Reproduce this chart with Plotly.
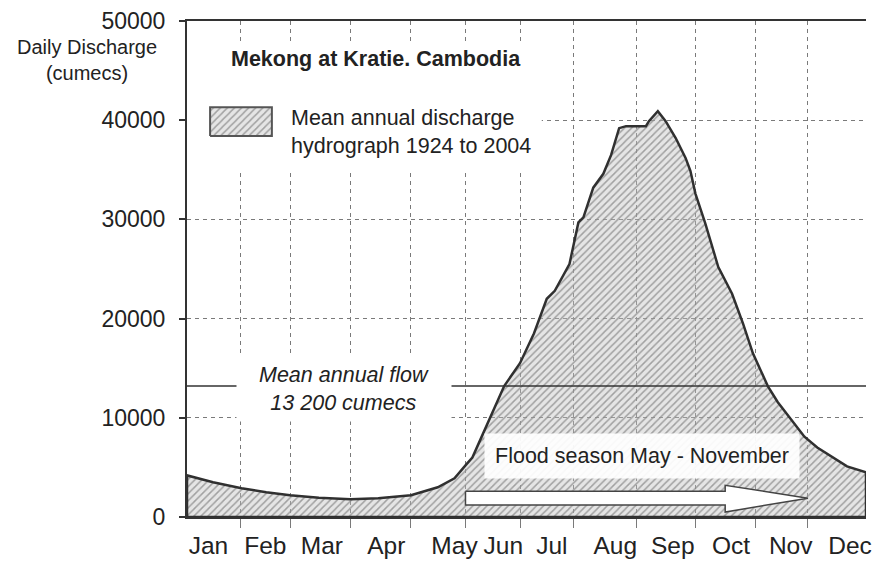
import plotly.graph_objects as go

# ---------------- data ----------------
month_labels = ["Jan", "Feb", "Mar", "Apr", "May", "Jun", "Jul", "Aug", "Sep", "Oct", "Nov", "Dec"]
month_label_days = [11.5, 42.1, 72.5, 107.1, 143.8, 170.0, 196.1, 230.2, 261.1, 292.5, 324.5, 356.4]
month_grid_days = [29.0, 55.4, 87.9, 120.4, 149.7, 179.3, 207.8, 241.6, 273.6, 305.6, 333.8]

day_of_year = [0, 14, 29.3, 42.6, 55.4, 70.9, 87.9, 102.8, 120.4, 134.8,
               143.8, 149.7, 153.4, 157.7, 163.0, 170.5, 179.0, 186.5, 193.4, 197.7,
               205.6, 207.8, 210.4, 213.1, 218.4, 223.8, 228.0, 232.3, 236.0, 246.7,
               248.3, 253.1, 257.3, 262.7, 268.0, 270.6, 273.3, 278.6, 285.6, 293.0,
               298.9, 304.2, 312.2, 317.5, 325.0, 331.9, 338.8, 346.3, 354.8, 365]
discharge = [4200, 3500, 2900, 2500, 2200, 1950, 1800, 1900, 2200, 3000,
             3900, 5200, 6000, 7800, 10000, 13200, 15500, 18500, 22000, 22800,
             25500, 27500, 29700, 30200, 33200, 34600, 36500, 39200, 39400, 39400,
             39900, 40900, 39900, 38200, 36200, 34900, 32600, 29600, 25200, 22500,
             19500, 16500, 13200, 11600, 9800, 8100, 7000, 6100, 5100, 4500]

y_ticks = [0, 10000, 20000, 30000, 40000, 50000]
mean_annual_flow = 13200

# flood-season arrow (day of year / cumecs)
flood_start_day = 149.7
flood_head_day = 289.3
flood_end_day = 333.8
arrow_body = (1200, 2600)
arrow_head = (500, 3200)
arrow_tip = 1900

YEAR_END = 365
FONT = "Liberation Sans, Arial, sans-serif"
TXT = "#222222"

hatch = dict(shape="/", bgcolor="rgba(190,190,190,0.40)", fgcolor="#8a8a8a",
             fgopacity=0.75, size=5, solidity=0.3)

fig = go.Figure()

# hydrograph (closed polygon so that the outline runs round the whole area)
fig.add_trace(go.Scatter(
    x=[0] + day_of_year + [YEAR_END, 0],
    y=[0] + discharge + [0, 0],
    mode="lines", fill="toself",
    fillcolor="rgba(190,190,190,0.40)", fillpattern=hatch,
    line=dict(color="#303030", width=2.5),
    hoverinfo="skip", showlegend=False))

# flood-season arrow
ax = [flood_start_day, flood_head_day, flood_head_day, flood_end_day,
      flood_head_day, flood_head_day, flood_start_day, flood_start_day]
ay = [arrow_body[1], arrow_body[1], arrow_head[1], arrow_tip,
      arrow_head[0], arrow_body[0], arrow_body[0], arrow_body[1]]
fig.add_trace(go.Scatter(x=ax, y=ay, mode="lines", fill="toself",
                         fillcolor="white", line=dict(color="#444444", width=1.5),
                         hoverinfo="skip", showlegend=False))

# legend swatch on an invisible overlay axis (0..1 of the plot area)
sw = dict(x0=0.034, x1=0.125, y0=0.768, y1=0.826)
fig.add_trace(go.Scatter(
    x=[sw["x0"], sw["x1"], sw["x1"], sw["x0"], sw["x0"]],
    y=[sw["y0"], sw["y0"], sw["y1"], sw["y1"], sw["y0"]],
    mode="lines", fill="toself", fillcolor="rgba(190,190,190,0.40)", fillpattern=hatch,
    line=dict(color="#555555", width=2), xaxis="x2", yaxis="y2",
    hoverinfo="skip", showlegend=False))

shapes = [
    # white area behind title + legend, hiding the grid
    dict(type="rect", xref="x", yref="y", layer="between",
         x0=0, x1=190.7, y0=34700, y1=47700,
         fillcolor="white", line=dict(width=0)),
    # mean annual flow line
    dict(type="line", xref="x", yref="y", layer="above",
         x0=0, x1=YEAR_END, y0=mean_annual_flow, y1=mean_annual_flow,
         line=dict(color="#333333", width=1.5)),
]

annotations = [
    dict(text="<b>Mekong at Kratie. Cambodia</b>", xref="paper", yref="paper",
         x=0.279, y=0.924, xanchor="center", yanchor="middle", showarrow=False,
         font=dict(size=21.5, color=TXT, family=FONT)),
    dict(text="Mean annual discharge<br>hydrograph 1924 to 2004", xref="paper", yref="paper",
         x=0.150, y=0.777, xanchor="left", yanchor="middle", align="left", showarrow=False,
         font=dict(size=21.5, color=TXT, family=FONT)),
    dict(text="Daily Discharge<br>(cumecs)", xref="paper", yref="paper",
         x=-0.148, y=0.922, xanchor="center", yanchor="middle", showarrow=False,
         align="center", font=dict(size=20, color=TXT, family=FONT)),
    dict(text="<i>Mean annual flow<br>13 200 cumecs</i>", xref="x", yref="y",
         x=84.2, y=12900, showarrow=False, align="center",
         width=212, height=62, bgcolor="white",
         font=dict(size=21.5, color=TXT, family=FONT)),
    dict(text="Flood season May - November", xref="x", yref="y",
         x=244.5, y=6200, showarrow=False, align="center",
         width=312, height=42, bgcolor="rgba(255,255,255,0.92)",
         font=dict(size=21.5, color=TXT, family=FONT)),
]

fig.update_layout(
    width=880, height=567,
    margin=dict(l=187, r=8, t=19, b=49),
    paper_bgcolor="white", plot_bgcolor="white",
    font=dict(family=FONT, color=TXT),
    showlegend=False,
    shapes=shapes, annotations=annotations,
    xaxis=dict(range=[0, YEAR_END], tickmode="array", tickvals=month_label_days,
               ticktext=month_labels, ticks="", showgrid=False, zeroline=False,
               showline=True, linecolor="#333333", linewidth=2, mirror=True,
               ticklabelstandoff=6, tickfont=dict(size=24.5, color=TXT, family=FONT),
               minor=dict(tickmode="array", tickvals=month_grid_days, showgrid=True,
                          gridcolor="#7a7a7a", gridwidth=1, griddash="4px,4px",
                          ticks="outside", ticklen=9, tickcolor="#7a7a7a")),
    yaxis=dict(range=[0, 50000], tickmode="array", tickvals=y_ticks, tickformat="d",
               ticks="outside", ticklen=6, tickcolor="#333333", tickwidth=1.5,
               showgrid=True, gridcolor="#7a7a7a", gridwidth=1, griddash="4px,4px",
               zeroline=False, showline=True, linecolor="#333333", linewidth=2,
               ticklabelstandoff=9, tickfont=dict(size=23, color=TXT, family=FONT)),
    xaxis2=dict(overlaying="x", range=[0, 1], visible=False, anchor="y2"),
    yaxis2=dict(overlaying="y", range=[0, 1], visible=False, anchor="x2"),
)

fig.write_html("out.html", config={"displayModeBar": False},
               post_script="document.body.style.margin='0';")
